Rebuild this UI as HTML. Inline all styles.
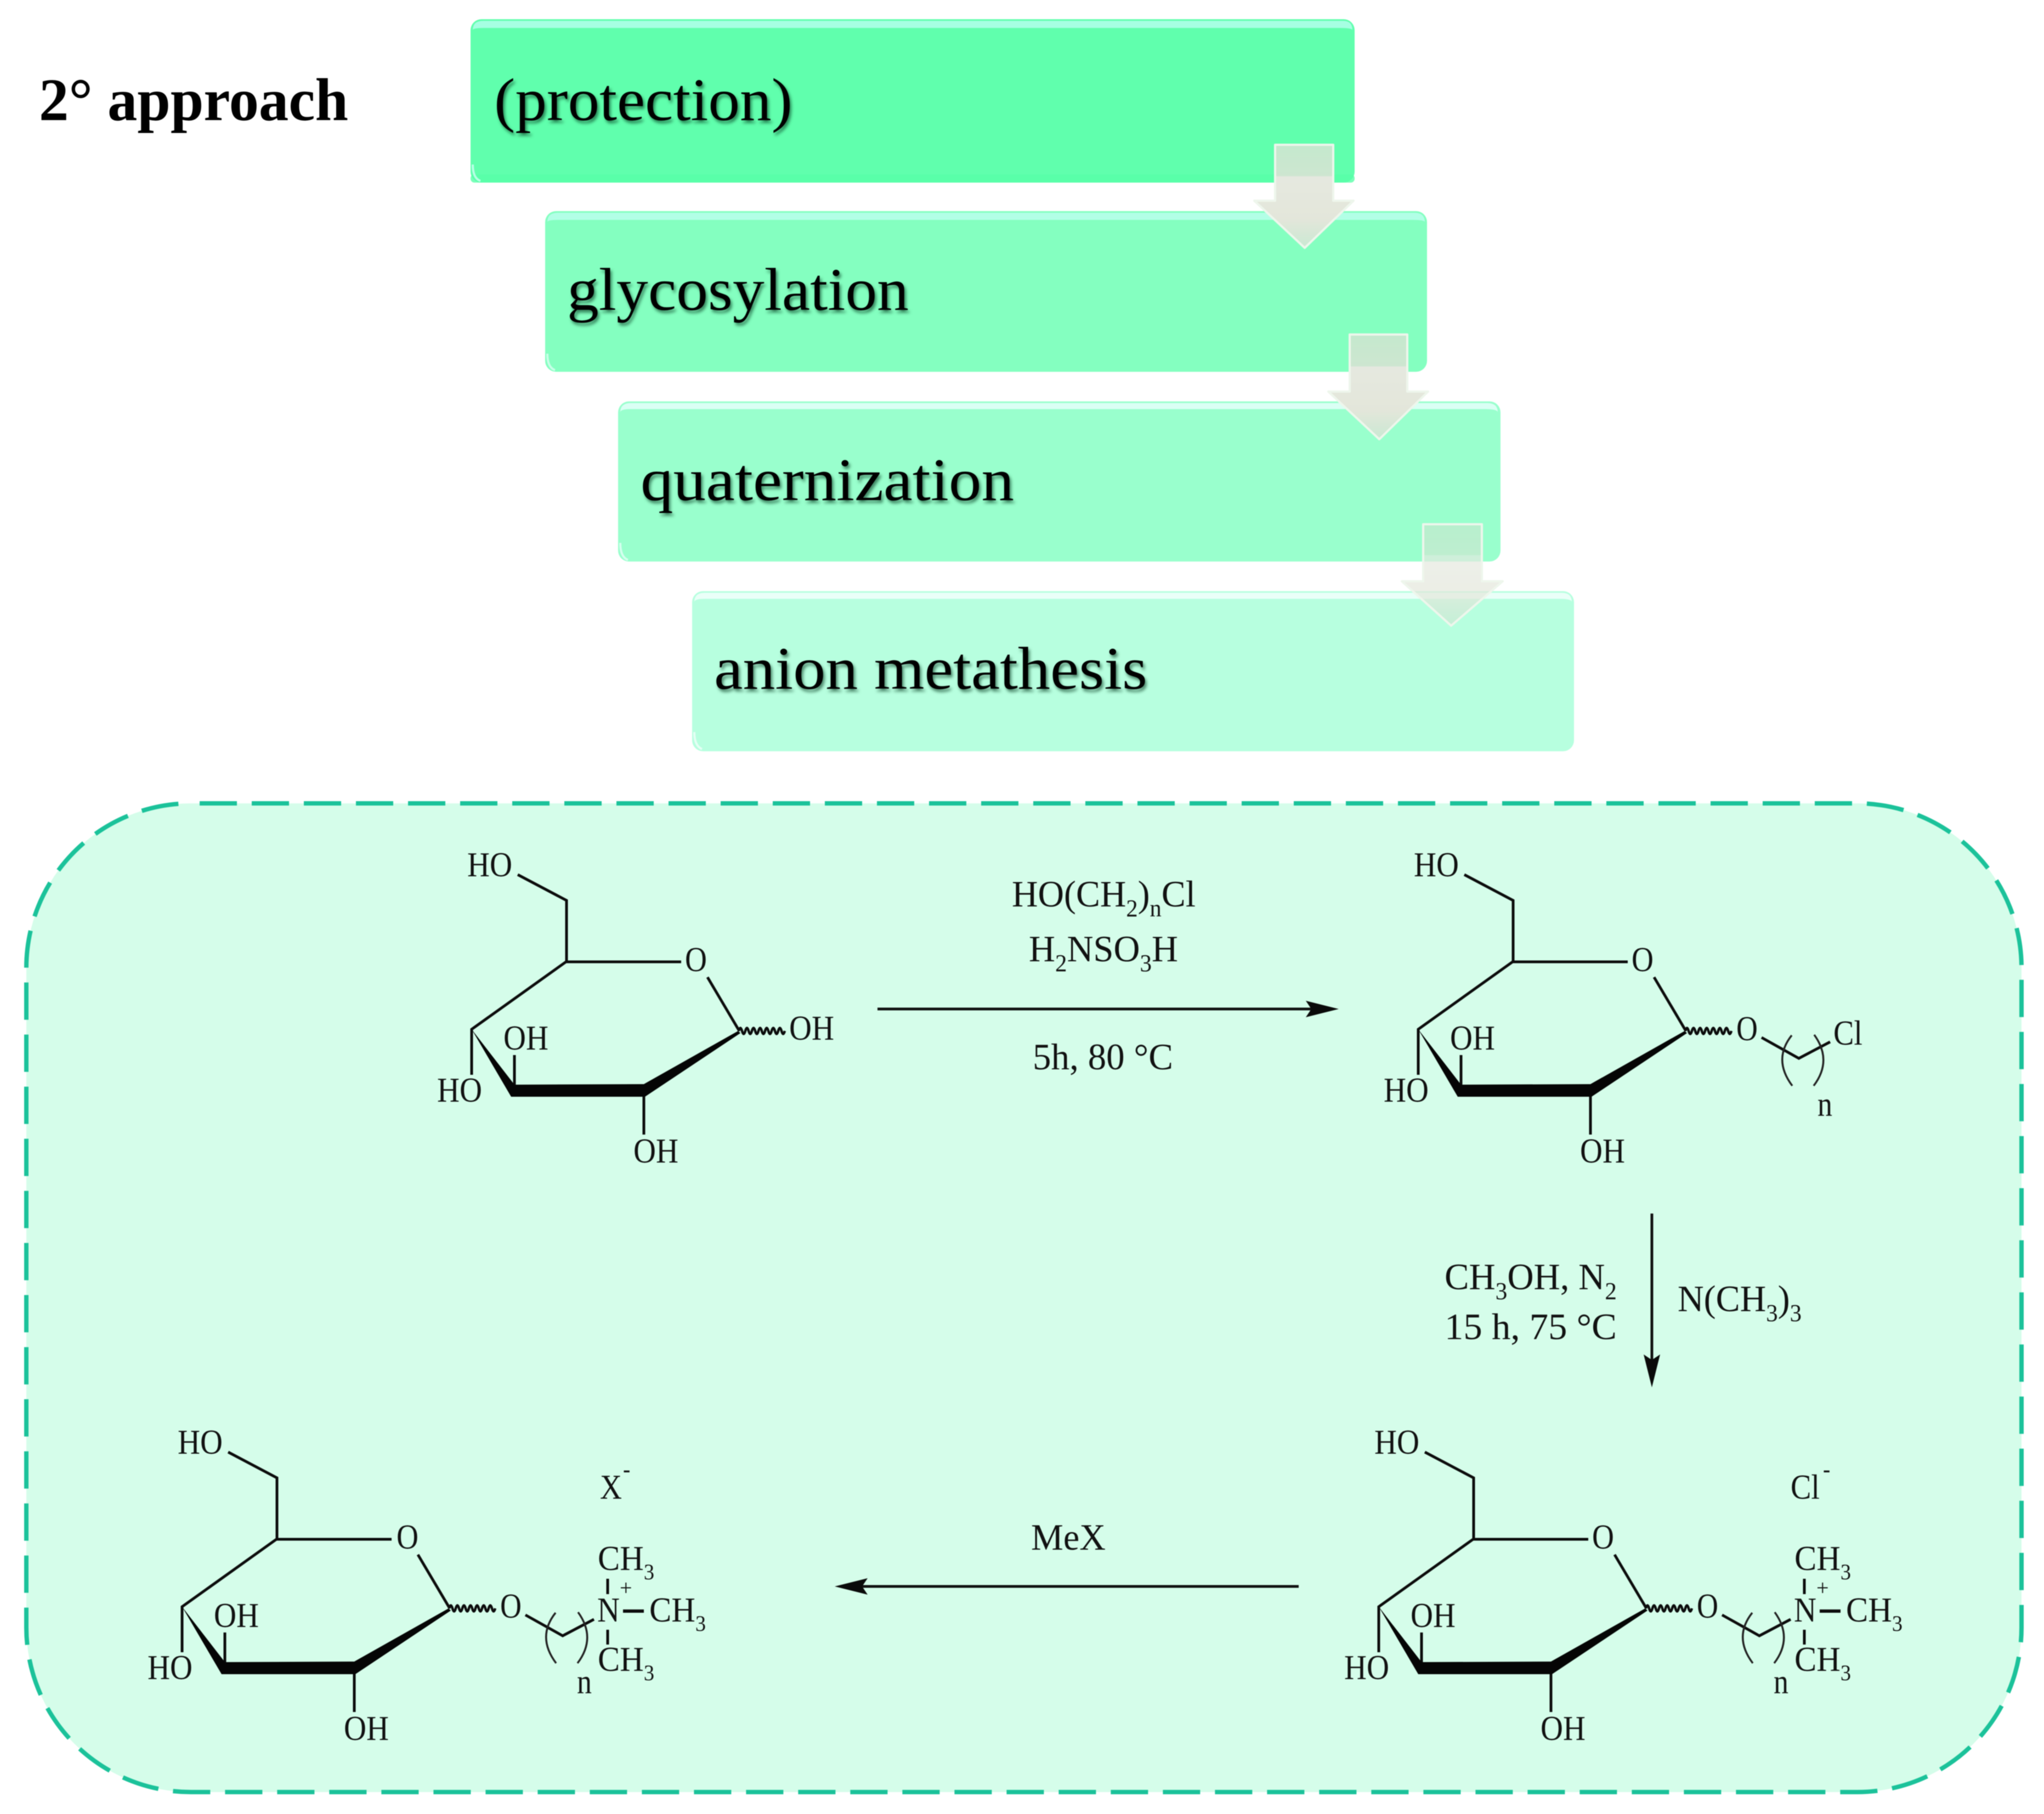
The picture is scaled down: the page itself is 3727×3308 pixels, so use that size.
<!DOCTYPE html>
<html>
<head>
<meta charset="utf-8">
<style>
html,body{margin:0;padding:0;background:#fff;}
svg{display:block;filter:blur(.8px);}
.h{font-family:"Liberation Serif",serif;font-size:110px;fill:#000;filter:drop-shadow(3px 5px 3px rgba(0,50,25,.6));}
.t{font-family:"Liberation Serif",serif;font-size:63px;fill:#111;}
.r{font-family:"Liberation Serif",serif;font-size:68px;fill:#111;}
.s{font-size:40px;}
.rs{font-size:44px;}
.b{fill:none;stroke:#0c0c0c;stroke-width:5;}
</style>
</head>
<body>
<svg xmlns="http://www.w3.org/2000/svg" width="3727" height="3308" viewBox="0 0 3727 3308">
<defs>
<g id="ring">
<path class="b" d="M944 1595L1033 1642V1754H1242M1290 1782L1348 1880M1032 1754L860 1877V1960M938 1978V1924M1174 1999V2069"/>
<polygon points="860,1877 938,1978 1174,1977 1346,1880 1350,1884 1176,2000 932,2000" fill="#050505"/>
<path d="M1347 1880q3 -11 6 0t6 0t6 0t6 0t6 0t6 0t6 0t6 0t6 0t6 0t6 0t6 0t6 0t6 0" fill="none" stroke="#0c0c0c" stroke-width="4.500"/>
</g>
<g id="chain">
<path class="b" d="M3140 2945L3208 2983L3265 2953"/>
<path d="M3195 2941Q3160 2985 3196 3033M3236 2940Q3270 2987 3235 3033" fill="none" stroke="#222" stroke-width="3.500"/>
</g>
<g id="quat">
<path class="b" d="M3290 2879V2907M3290 2972V2999"/>
<path d="M3318 2938H3356" stroke="#0c0c0c" stroke-width="6"/>
</g>
<linearGradient id="a1" x1="0" y1="0" x2="0" y2="1"><stop offset="0" stop-color="#c4e8cd"/><stop offset=".3" stop-color="#cde6d0"/><stop offset=".31" stop-color="#e5e8df"/><stop offset=".72" stop-color="#e3e6da"/><stop offset="1" stop-color="#c9e8d2"/></linearGradient>
</defs>

<rect width="3727" height="3308" fill="#fff"/>

<!-- top boxes -->
<g>
<rect x="858" y="35" width="1612" height="298" rx="20" fill="#60ffad"/>
<path d="M862 55Q862 38 881 38H2449Q2466 38 2466 55Q2466 51 2444 51H881Q862 51 862 55Z" fill="#a6ffe2"/>
<rect x="858" y="318" width="1612" height="15" rx="7" fill="#58ffa8" opacity=".8"/>
<path d="M862 300Q862 325 876 330" fill="none" stroke="#b8ffe6" stroke-width="4"/>

<rect x="994" y="385" width="1608" height="293" rx="20" fill="#84ffc0"/>
<path d="M998 405Q998 388 1017 388H2579Q2598 388 2598 405Q2598 401 2576 401H1017Q998 401 998 405Z" fill="#b2ffe6"/>
<path d="M998 645Q998 670 1012 675" fill="none" stroke="#c8ffe8" stroke-width="4"/>

<rect x="1127" y="732" width="1609" height="292" rx="20" fill="#99ffcd"/>
<path d="M1131 752Q1131 735 1150 735H2712Q2731 735 2731 752Q2731 746 2708 746H1150Q1131 746 1131 752Z" fill="#dafff4"/>
<path d="M1131 990Q1131 1016 1145 1021" fill="none" stroke="#d4ffee" stroke-width="4"/>

<rect x="1262" y="1078" width="1608" height="292" rx="20" fill="#b7ffdf"/>
<path d="M1266 1098Q1266 1081 1285 1081H2848Q2866 1081 2866 1098Q2866 1092 2844 1092H1285Q1266 1092 1266 1098Z" fill="#eafff8"/>
<path d="M1266 1335Q1266 1360 1280 1366" fill="none" stroke="#e4fff4" stroke-width="4"/>
</g>

<!-- block arrows -->
<g fill="url(#a1)" stroke="#eef6ec" stroke-width="4" stroke-linejoin="round">
<polygon points="2325,264 2431,264 2431,366 2468,366 2379,452 2287,366 2325,366"/>
<polygon points="2461,610 2566,610 2566,714 2604,714 2515,801 2422,714 2461,714"/>
<polygon points="2595,956 2702,956 2702,1060 2740,1060 2646,1141 2556,1060 2595,1060" fill-opacity=".7"/>
</g>

<!-- headings -->
<text x="71" y="219" font-family="Liberation Serif,serif" font-weight="bold" font-size="110" textLength="564" lengthAdjust="spacingAndGlyphs" fill="#000">2° approach</text>
<text class="h" x="901" y="219" textLength="544" lengthAdjust="spacingAndGlyphs">(protection)</text>
<text class="h" x="1034" y="565" textLength="623" lengthAdjust="spacingAndGlyphs">glycosylation</text>
<text class="h" x="1168" y="912" textLength="681" lengthAdjust="spacingAndGlyphs">quaternization</text>
<text class="h" x="1302" y="1256" textLength="790" lengthAdjust="spacingAndGlyphs">anion metathesis</text>

<!-- panel -->
<rect x="48" y="1465" width="3638" height="1803" rx="300" fill="#d5fdea" stroke="#1bc29a" stroke-width="8" stroke-dasharray="68 27" stroke-dashoffset="-16"/>

<!-- structure 1 -->
<g>
<use href="#ring"/>
<text class="t" x="852" y="1598" textLength="82" lengthAdjust="spacingAndGlyphs">HO</text>
<text class="t" x="1249" y="1771" textLength="40" lengthAdjust="spacingAndGlyphs">O</text>
<text class="t" x="1439" y="1896" textLength="82" lengthAdjust="spacingAndGlyphs">OH</text>
<text class="t" x="918" y="1914" textLength="82" lengthAdjust="spacingAndGlyphs">OH</text>
<text class="t" x="797" y="2009" textLength="82" lengthAdjust="spacingAndGlyphs">HO</text>
<text class="t" x="1155" y="2120" textLength="82" lengthAdjust="spacingAndGlyphs">OH</text>
</g>

<!-- structure 2 -->
<g transform="translate(1726 0)">
<use href="#ring"/>
<text class="t" x="852" y="1598" textLength="82" lengthAdjust="spacingAndGlyphs">HO</text>
<text class="t" x="1249" y="1771" textLength="40" lengthAdjust="spacingAndGlyphs">O</text>
<text class="t" x="918" y="1914" textLength="82" lengthAdjust="spacingAndGlyphs">OH</text>
<text class="t" x="797" y="2009" textLength="82" lengthAdjust="spacingAndGlyphs">HO</text>
<text class="t" x="1155" y="2120" textLength="82" lengthAdjust="spacingAndGlyphs">OH</text>
</g>
<g transform="translate(72 -1053)"><use href="#chain"/></g>
<text class="t" x="3166" y="1897" textLength="39" lengthAdjust="spacingAndGlyphs">O</text>
<text class="t" x="3343" y="1905" textLength="53" lengthAdjust="spacingAndGlyphs">Cl</text>
<text class="t" x="3314" y="2035" textLength="27" lengthAdjust="spacingAndGlyphs">n</text>

<!-- structure 3 -->
<g transform="translate(1654 1053)">
<use href="#ring"/>
<text class="t" x="852" y="1598" textLength="82" lengthAdjust="spacingAndGlyphs">HO</text>
<text class="t" x="1249" y="1771" textLength="40" lengthAdjust="spacingAndGlyphs">O</text>
<text class="t" x="918" y="1914" textLength="82" lengthAdjust="spacingAndGlyphs">OH</text>
<text class="t" x="797" y="2009" textLength="82" lengthAdjust="spacingAndGlyphs">HO</text>
<text class="t" x="1155" y="2120" textLength="82" lengthAdjust="spacingAndGlyphs">OH</text>
</g>
<use href="#chain"/>
<use href="#quat"/>
<text class="t" x="3094" y="2950" textLength="39" lengthAdjust="spacingAndGlyphs">O</text>
<text class="t" x="3271" y="2957" textLength="41" lengthAdjust="spacingAndGlyphs">N</text>
<text class="t" x="3272" y="2863" textLength="103" lengthAdjust="spacingAndGlyphs">CH<tspan class="s" dy="17">3</tspan></text>
<text class="t" x="3366" y="2957" textLength="103" lengthAdjust="spacingAndGlyphs">CH<tspan class="s" dy="17">3</tspan></text>
<text class="t" x="3272" y="3047" textLength="103" lengthAdjust="spacingAndGlyphs">CH<tspan class="s" dy="17">3</tspan></text>
<text class="s" font-family="Liberation Serif,serif" x="3312" y="2909" fill="#111">+</text>
<text class="t" x="3234" y="3088" textLength="27" lengthAdjust="spacingAndGlyphs">n</text>
<text class="t" x="3265" y="2733" textLength="53" lengthAdjust="spacingAndGlyphs">Cl</text>
<text class="s" font-family="Liberation Serif,serif" x="3324" y="2693" fill="#111" font-weight="bold">-</text>

<!-- structure 4 -->
<g transform="translate(-528 1053)">
<use href="#ring"/>
<text class="t" x="852" y="1598" textLength="82" lengthAdjust="spacingAndGlyphs">HO</text>
<text class="t" x="1251" y="1771" textLength="40" lengthAdjust="spacingAndGlyphs">O</text>
<text class="t" x="918" y="1914" textLength="82" lengthAdjust="spacingAndGlyphs">OH</text>
<text class="t" x="797" y="2009" textLength="82" lengthAdjust="spacingAndGlyphs">HO</text>
<text class="t" x="1155" y="2120" textLength="82" lengthAdjust="spacingAndGlyphs">OH</text>
</g>
<g transform="translate(-2182 0)">
<use href="#chain"/>
<use href="#quat"/>
<text class="t" x="3094" y="2950" textLength="39" lengthAdjust="spacingAndGlyphs">O</text>
<text class="t" x="3271" y="2957" textLength="41" lengthAdjust="spacingAndGlyphs">N</text>
<text class="t" x="3272" y="2863" textLength="103" lengthAdjust="spacingAndGlyphs">CH<tspan class="s" dy="17">3</tspan></text>
<text class="t" x="3366" y="2957" textLength="103" lengthAdjust="spacingAndGlyphs">CH<tspan class="s" dy="17">3</tspan></text>
<text class="t" x="3272" y="3047" textLength="103" lengthAdjust="spacingAndGlyphs">CH<tspan class="s" dy="17">3</tspan></text>
<text class="s" font-family="Liberation Serif,serif" x="3312" y="2909" fill="#111">+</text>
<text class="t" x="3234" y="3088" textLength="27" lengthAdjust="spacingAndGlyphs">n</text>
</g>
<text class="t" x="1094" y="2733" textLength="40" lengthAdjust="spacingAndGlyphs">X</text>
<text class="s" font-family="Liberation Serif,serif" x="1136" y="2693" fill="#111" font-weight="bold">-</text>

<!-- reaction arrows -->
<path d="M1600 1840H2400" stroke="#111" stroke-width="5"/>
<polygon points="2441,1840 2381,1825 2391,1840 2381,1855" fill="#0a0a0a"/>
<path d="M3012 2213V2490" stroke="#111" stroke-width="5"/>
<polygon points="3012,2530 2997,2470 3012,2480 3027,2470" fill="#0a0a0a"/>
<path d="M2368 2893H1565" stroke="#111" stroke-width="5"/>
<polygon points="1522,2893 1582,2878 1572,2893 1582,2908" fill="#0a0a0a"/>

<!-- reagents -->
<text class="r" x="1845" y="1653" textLength="335" lengthAdjust="spacingAndGlyphs">HO(CH<tspan class="rs" dy="18">2</tspan><tspan dy="-18">)</tspan><tspan class="rs" dy="18">n</tspan><tspan dy="-18">Cl</tspan></text>
<text class="r" x="1876" y="1753" textLength="272" lengthAdjust="spacingAndGlyphs">H<tspan class="rs" dy="18">2</tspan><tspan dy="-18">NSO</tspan><tspan class="rs" dy="18">3</tspan><tspan dy="-18">H</tspan></text>
<text class="r" x="1883" y="1950" textLength="256" lengthAdjust="spacingAndGlyphs">5h, 80 °C</text>
<text class="r" x="2634" y="2351" textLength="314" lengthAdjust="spacingAndGlyphs">CH<tspan class="rs" dy="18">3</tspan><tspan dy="-18">OH, N</tspan><tspan class="rs" dy="18">2</tspan></text>
<text class="r" x="2634" y="2442" textLength="314" lengthAdjust="spacingAndGlyphs">15 h, 75 °C</text>
<text class="r" x="3059" y="2391" textLength="226" lengthAdjust="spacingAndGlyphs">N(CH<tspan class="rs" dy="18">3</tspan><tspan dy="-18">)</tspan><tspan class="rs" dy="18">3</tspan></text>
<text class="r" x="1880" y="2826" textLength="136" lengthAdjust="spacingAndGlyphs">MeX</text>
</svg>
</body>
</html>
